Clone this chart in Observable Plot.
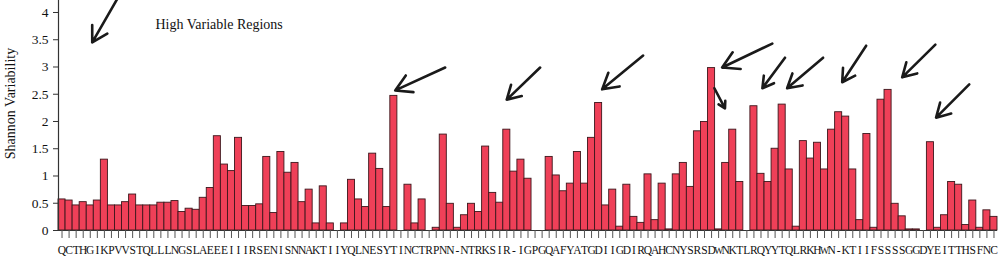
<!DOCTYPE html>
<html>
<head>
<meta charset="utf-8">
<script src="https://cdn.jsdelivr.net/npm/d3@7"></script>
<script src="https://cdn.jsdelivr.net/npm/@observablehq/plot@0.6"></script>
<style>
  html, body { margin: 0; padding: 0; background: #fff; }
</style>
</head>
<body>
<div id="chart"></div>
<script>
// Residue labels (one per position)
const residues = "QCTHGIKPVVSTQLLLNGSLAEEEIIIRSENISNNAKTIIYQLNESYTINCTRPNN-NTRKSIR-IGPGQAFYATGDIIGDIRQAHCNYSRSDWNKTLRQYYTQLRKHWN-KTIIFSSSSGGDYEITTHSFNC".split("");

// Shannon variability per position
const variability = [
  0.57,0.55,0.46,0.52,0.46,0.55,1.30,0.46,0.46,0.52,0.66,0.46,0.46,0.46,0.51,0.51,0.54,
  0.34,0.40,0.38,0.60,0.78,1.73,1.21,1.09,1.70,0.45,0.45,0.48,
  1.35,0.32,1.44,1.06,1.24,0.52,0.75,0.13,0.81,0.13,0,
  0.13,0.93,0.57,0.43,1.41,1.13,0.43,2.47,0,
  0.84,0.13,0.57,0,0.05,1.76,0.49,0.05,0.28,0.49,0.34,
  1.54,0.69,0.51,1.85,1.08,1.30,0.95,
  0,0,1.35,1.01,0.72,0.86,1.44,0.86,1.70,2.34,0.46,0.75,0.07,0.84,0.25,0.14,
  1.03,0.19,0.86,0.02,1.03,1.24,0.80,1.82,1.99,2.98,0.02,1.24,1.85,0.89,0,
  2.28,1.04,0.89,1.50,2.31,1.12,0.07,1.64,1.32,1.61,1.12,1.85,2.17,2.09,1.12,0.19,1.77,0.05,
  2.40,2.58,0.49,0.26,0.02,0.02,0,1.62,0.05,0.28,0.89,0.84,0.10,0.55,0.05,0.37,0.25
];

const yTicks = [0, 0.5, 1, 1.5, 2, 2.5, 3, 3.5, 4];
const yTickLabels = ["0", "0.5", "1", "1.5", "2", "2.5", "3", "3.5", "4"];

// Annotation arrows (position index / variability units)
const arrowTailX = [7.96, 54.27, 67.72, 82.31, 100.6, 92.4, 102.4, 107.8, 113.9, 123.7, 128.5];
const arrowTailY = [4.28, 2.99, 2.99, 3.21, 3.43, 2.61, 3.17, 3.17, 3.39, 3.41, 2.68];
const arrowTipX  = [4.28, 47.19, 62.99, 76.5, 93.5, 93.9, 99.2, 102.7, 110.5, 119.0, 123.8];
const arrowTipY  = [3.45, 2.57, 2.40, 2.59, 2.99, 2.24, 2.61, 2.61, 2.72, 2.81, 2.07];

const annotationText = "High Variable Regions";
const yLabel = "Shannon Variability";

const bars = residues.map((r, i) => ({i, r, v: variability[i]}));
const arrows = arrowTailX.map((x, k) => ({x1: x, y1: arrowTailY[k], x2: arrowTipX[k], y2: arrowTipY[k]}));

const plot = Plot.plot({
  width: 1000,
  height: 259,
  marginLeft: 58,
  marginRight: 3,
  marginTop: 0,
  marginBottom: 29,
  style: {fontFamily: "'Liberation Serif', serif", fontSize: "13px", color: "#111", background: "#fff"},
  x: {domain: [-0.5, residues.length - 0.5]},
  y: {domain: [0, 4.22]},
  marks: [
    Plot.rectY(bars, {x1: d => d.i - 0.5, x2: d => d.i + 0.5, y: "v", fill: "#EF4058", stroke: "#3d171c", strokeWidth: 0.9}),
    Plot.ruleY([0], {stroke: "#333", strokeWidth: 1}),
    Plot.axisY({ticks: yTicks, tickFormat: (d) => yTickLabels[yTicks.indexOf(d)], tickSize: 5, tickPadding: 5, label: null, stroke: "#333", fontSize: 13.5}),
    Plot.ruleX([-0.5], {stroke: "#333", strokeWidth: 1.2}),
    Plot.axisX({ticks: bars.map(d => d.i), tickFormat: () => "", tickSize: 8, label: null, stroke: "#555"}),
    Plot.text(bars, {x: "i", frameAnchor: "bottom", text: "r", lineAnchor: "bottom", dy: 23, fill: "#111",
      fontSize: d => (d.r === "W" ? 9.5 : 11.5)}),
    Plot.text([yLabel], {frameAnchor: "left", dx: -48, dy: -12, rotate: -90, fontSize: 14, textAnchor: "middle", fill: "#111"}),
    Plot.text([annotationText], {frameAnchor: "top-left", dx: 97, dy: 19, textAnchor: "start", fontSize: 14, fill: "#111"}),
    Plot.arrow(arrows, {x1: "x1", y1: "y1", x2: "x2", y2: "y2", stroke: "#1a1a1a", strokeWidth: 2.6, headLength: 11, headAngle: 60})
  ]
});
document.getElementById("chart").appendChild(plot);
</script>
</body>
</html>
